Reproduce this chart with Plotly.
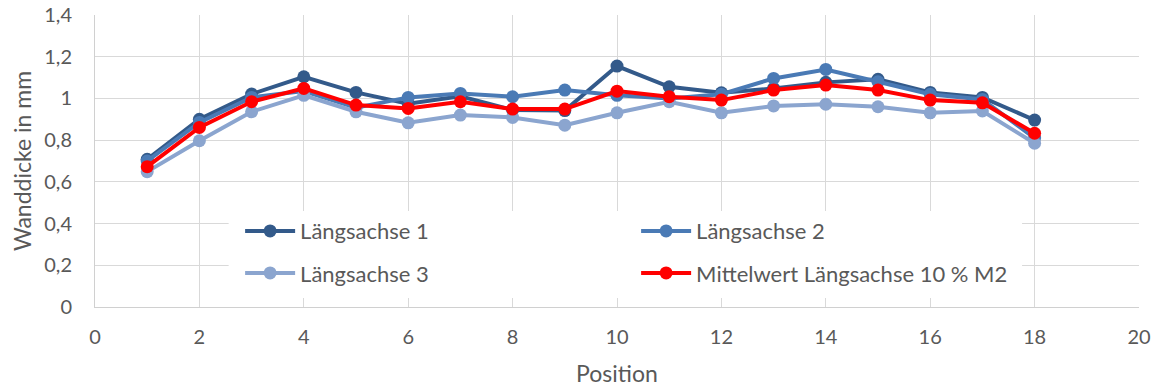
import plotly.graph_objects as go

positions = list(range(1, 19))
laengsachse_1 = [0.708, 0.900, 1.021, 1.104, 1.029, 0.975, 1.010, 0.945, 0.942, 1.155,
                 1.056, 1.027, 1.048, 1.077, 1.092, 1.029, 1.005, 0.896]
laengsachse_2 = [0.700, 0.885, 1.005, 1.035, 0.955, 1.005, 1.024, 1.008, 1.040, 1.015,
                 1.000, 1.020, 1.096, 1.139, 1.080, 1.020, 0.995, 0.810]
laengsachse_3 = [0.649, 0.797, 0.936, 1.015, 0.936, 0.883, 0.920, 0.909, 0.872, 0.931,
                 0.984, 0.931, 0.964, 0.972, 0.960, 0.931, 0.940, 0.785]
mittelwert = [0.673, 0.861, 0.984, 1.048, 0.968, 0.952, 0.984, 0.949, 0.949, 1.035,
              1.008, 0.992, 1.040, 1.064, 1.040, 0.992, 0.979, 0.833]

names = ["Längsachse 1", "Längsachse 2", "Längsachse 3", "Mittelwert Längsachse 10 % M2"]
colors = ["#335A8A", "#4A7AB5", "#8BA5CF", "#FF0000"]
legends = ["legend", "legend", "legend2", "legend2"]
series = [laengsachse_1, laengsachse_2, laengsachse_3, mittelwert]

x_ticks = list(range(0, 21, 2))
y_ticks = [0, 0.2, 0.4, 0.6, 0.8, 1.0, 1.2, 1.4]
y_ticklabels = ["0", "0,2", "0,4", "0,6", "0,8", "1", "1,2", "1,4"]

FONT = "Lato"
TXT = "#595959"
GRID = "#D9D9D9"

fig = go.Figure()
for name, vals, col, lg in zip(names, series, colors, legends):
    fig.add_trace(go.Scatter(
        x=positions, y=vals, name=name, mode="lines+markers",
        line=dict(color=col, width=4),
        marker=dict(color=col, size=13),
        legend=lg,
    ))

fig.add_shape(type="rect", xref="paper", yref="paper",
              x0=0.128, x1=0.888, y0=0.031, y1=0.329,
              fillcolor="white", line=dict(width=0), layer="above")

leg_common = dict(orientation="h", bgcolor="rgba(0,0,0,0)",
                  font=dict(family=FONT, size=22, color=TXT),
                  entrywidth=331, entrywidthmode="pixels",
                  xanchor="left", yanchor="middle", itemwidth=50)

fig.update_layout(
    width=1157, height=387,
    margin=dict(l=95, r=18, t=15, b=80),
    paper_bgcolor="white", plot_bgcolor="white",
    font=dict(family=FONT, size=20, color=TXT),
    legend=dict(x=0.139, y=0.26, **leg_common),
    legend2=dict(x=0.139, y=0.116, **leg_common),
    xaxis=dict(range=[0, 20], tickvals=x_ticks, showgrid=True, gridcolor=GRID, gridwidth=1,
               showline=True, linecolor="#D0D0D0", linewidth=1, zeroline=False,
               automargin=False, ticklabeloverflow="allow",
               tickfont=dict(family=FONT, size=20, color=TXT), ticks="", ticklabelstandoff=12,
               title=dict(text="Position", font=dict(family=FONT, size=23, color=TXT), standoff=21)),
    yaxis=dict(range=[0, 1.4], tickvals=y_ticks, ticktext=y_ticklabels, showgrid=True,
               gridcolor=GRID, gridwidth=1, showline=True, linecolor="#D0D0D0", linewidth=1,
               zeroline=False, automargin=False, ticklabeloverflow="allow",
               tickfont=dict(family=FONT, size=20, color=TXT), ticks="",
               ticklabelstandoff=18,
               title=dict(text="Wanddicke in mm", font=dict(family=FONT, size=23, color=TXT), standoff=6)),
    showlegend=True,
)

fig.write_html("out.html", config={"displayModeBar": False},
               post_script="document.body.style.margin='0';")
